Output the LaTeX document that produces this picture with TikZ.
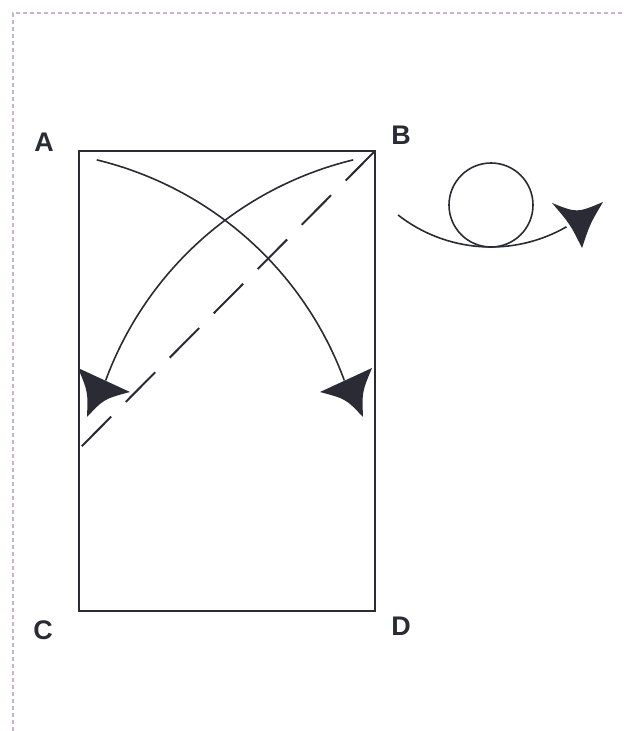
\documentclass[tikz,border=0pt]{standalone}
\usepackage{fontspec}
\setmainfont{Liberation Sans}
\definecolor{ink}{HTML}{2B2B35}
\definecolor{framec}{RGB}{200,178,205}
\tikzset{
  lbl/.style={font=\fontsize{27}{27}\selectfont\bfseries, text=ink, inner sep=0pt},
  paper/.style={draw=ink, line width=2bp},
  foldline/.style={draw=ink, line width=2bp, dash pattern=on 41.6bp off 20.8bp},
  movearc/.style={draw=ink, line width=1.6bp},
  headfill/.style={fill=ink, draw=none},
  frameline/.style={draw=framec, line width=1.5bp, dash pattern=on 4bp off 3bp}
}
\begin{document}
\begin{tikzpicture}[x=1bp,y=1bp]
\useasboundingbox (0,0) rectangle (624,-731);
% outer dashed frame
\coordinate (fTL) at (13,-13);
\coordinate (fTR) at (624,-13);
\coordinate (fBL) at (13,-731);
\draw[frameline] (fBL) -- (fTL) -- (fTR);
% paper corners
\coordinate (A) at (79,-151);
\coordinate (B) at (375,-151);
\coordinate (C) at (79,-611);
\coordinate (D) at (375,-611);
\draw[paper] (A) -- (B) -- (D) -- (C) -- cycle;
% labels
\node[lbl] (labA) at (44,-142) {A};
\node[lbl] (labB) at (401,-135) {B};
\node[lbl] (labC) at (43,-630) {C};
\node[lbl] (labD) at (401,-626) {D};
% dashed fold line
\coordinate (foldEnd) at (79,-449);
\draw[foldline] (B) -- (foldEnd);
% arc 1 (top-left to right arrow)
\coordinate (arcOneC) at (14,-502);
\draw[movearc] ([shift={(76.4:352)}]arcOneC) arc[start angle=76.4, end angle=20.2, radius=352];
\fill[headfill] (320,-392) -- (372,-368) .. controls (362,-392) .. (363,-417) .. controls (346,-399) .. cycle;
% arc 2 (top-right to left arrow)
\coordinate (arcTwoC) at (436,-502);
\draw[movearc] ([shift={(103.6:352)}]arcTwoC) arc[start angle=103.6, end angle=159.8, radius=352];
\fill[headfill] (130,-392) -- (78,-368) .. controls (88,-392) .. (87,-417) .. controls (104,-399) .. cycle;
% turn-over symbol
\coordinate (loopC) at (491,-96);
\coordinate (ringC) at (491,-205);
\draw[movearc] ([shift={(232:151)}]loopC) arc[start angle=232, end angle=300, radius=151];
\draw[movearc] (ringC) circle[radius=42];
\fill[headfill] (552,-203) .. controls (577,-213) .. (603,-202) .. controls (590,-224) .. (582,-248) .. controls (570,-224) .. cycle;
\end{tikzpicture}
\end{document}
